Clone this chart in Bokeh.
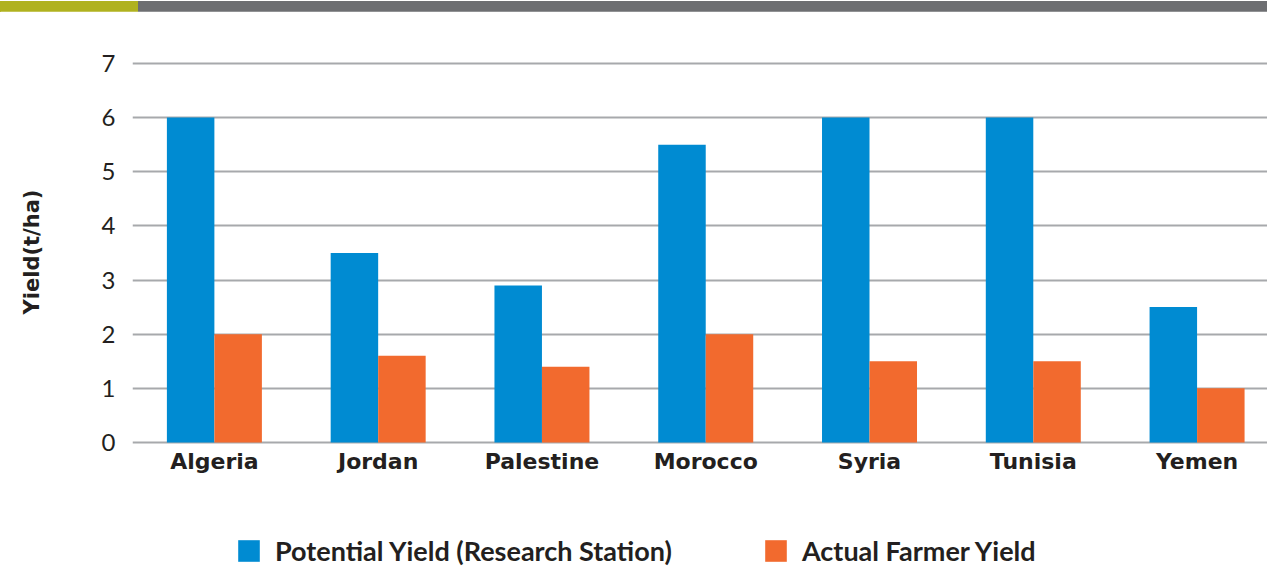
from bokeh.plotting import figure
from bokeh.models import ColumnDataSource, Range1d, Legend, LegendItem, Div
from bokeh.transform import dodge
from bokeh.layouts import column
from bokeh.embed import file_html
from bokeh.resources import INLINE

countries = ["Algeria", "Jordan", "Palestine", "Morocco", "Syria", "Tunisia", "Yemen"]
potential = [6.0, 3.5, 2.9, 5.5, 6.0, 6.0, 2.5]
actual = [2.0, 1.6, 1.4, 2.0, 1.5, 1.5, 1.0]
y_ticks = [0, 1, 2, 3, 4, 5, 6, 7]
series_names = ["Potential Yield (Research Station)", "Actual Farmer Yield"]
series_colors = ["#008bd2", "#f26a2e"]
band_colors = ["#b0b21f", "#6d6e71"]

W = 1267
TEXT = "#231f20"

# category centres on a numeric scale (one unit per category)
xpos = [i + 0.5 for i in range(len(countries))]

# top decorative band
band = Div(width=W, height=11, margin=0,
           text=('<div style="display:flex;width:%dpx;height:11px;margin:0;padding:0">'
                 '<div style="width:138px;height:11px;background:%s"></div>'
                 '<div style="flex:1;height:11px;background:%s"></div></div>')
           % (W, band_colors[0], band_colors[1]))

src = ColumnDataSource(dict(x=xpos, country=countries, potential=potential, actual=actual))

p = figure(width=W, height=469, x_range=Range1d(0, 6.93),
           y_range=Range1d(-0.056, 7.092), toolbar_location=None, output_backend="svg",
           min_border_left=132, min_border_right=0, min_border_top=47, min_border_bottom=35)
p.outline_line_color = None

r1 = p.vbar(x=dodge("x", -0.145), top="potential", width=0.29,
            source=src, fill_color=series_colors[0], line_color=None)
r2 = p.vbar(x=dodge("x", 0.145), top="actual", width=0.29,
            source=src, fill_color=series_colors[1], line_color=None)

p.xgrid.visible = False
p.ygrid.ticker = y_ticks
p.ygrid.grid_line_color = "#a7a9ac"
p.ygrid.grid_line_width = 2
p.ygrid.level = "underlay"

p.yaxis.ticker = y_ticks
p.yaxis.axis_line_color = None
p.yaxis.major_tick_line_color = None
p.yaxis.minor_tick_line_color = None
p.yaxis.major_label_standoff = 11
p.yaxis.major_label_text_font = "Lato"
p.yaxis.major_label_text_font_size = "24px"
p.yaxis.major_label_text_color = TEXT
p.yaxis.axis_label = "Yield(t/ha)"
p.yaxis.axis_label_text_font = "DejaVu Sans"
p.yaxis.axis_label_text_font_style = "bold"
p.yaxis.axis_label_text_font_size = "21px"
p.yaxis.axis_label_text_color = TEXT
p.yaxis.axis_label_standoff = 55

p.xaxis.ticker = xpos
p.xaxis.major_label_overrides = {x: c for x, c in zip(xpos, countries)}
p.xaxis.axis_line_color = None
p.xaxis.major_tick_line_color = None
p.xaxis.minor_tick_line_color = None
p.xaxis.major_label_standoff = -3
p.xaxis.major_label_text_font = "DejaVu Sans"
p.xaxis.major_label_text_font_style = "bold"
p.xaxis.major_label_text_font_size = "22px"
p.xaxis.major_label_text_color = TEXT

# legend strip (its bars lie outside its visible y range; only the legend shows)
lf = figure(width=W, height=88, x_range=Range1d(0, 1), y_range=Range1d(100, 101),
            toolbar_location=None, output_backend="svg",
            min_border_left=132, min_border_right=0, min_border_top=0, min_border_bottom=0)
lf.axis.visible = False
lf.grid.visible = False
lf.outline_line_color = None
l1 = lf.vbar(x="x", top="potential", width=0.29, source=src,
             fill_color=series_colors[0], line_color=None)
l2 = lf.vbar(x="x", top="actual", width=0.29, source=src,
             fill_color=series_colors[1], line_color=None)

legend = Legend(items=[LegendItem(label=series_names[0], renderers=[l1]),
                       LegendItem(label=series_names[1], renderers=[l2])],
                orientation="horizontal", location=(103, 1),
                glyph_width=27, glyph_height=27, label_standoff=13, spacing=90,
                padding=0, margin=0, border_line_color=None, background_fill_alpha=0,
                label_text_font="Lato", label_text_font_style="bold",
                label_text_font_size="27px", label_text_color=TEXT,
                label_height=27)
lf.add_layout(legend, "center")

layout = column(band, p, lf, spacing=0)
open("out.html", "w").write(file_html(layout, INLINE))
